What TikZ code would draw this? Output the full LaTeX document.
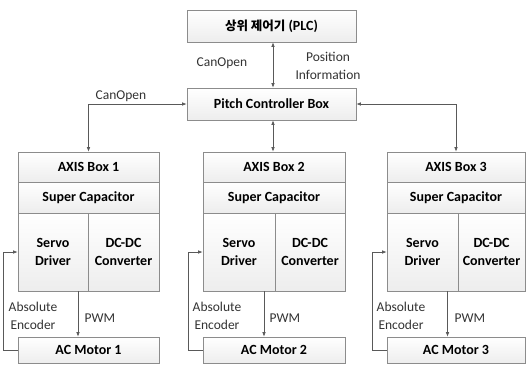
\documentclass[tikz,border=0pt]{standalone}
\usepackage{fontspec}
\setmainfont{Carlito}
\newfontfamily\krfont{Noto Sans CJK KR}
\usetikzlibrary{arrows.meta}
\definecolor{ln}{gray}{0.35}
\definecolor{bd}{gray}{0.55}
\begin{document}
\begin{tikzpicture}[x=1pt,y=-1pt,
  blk/.style={draw=bd, line width=0.6pt, top color=white, bottom color=gray!14, inner sep=0pt, align=center, font=\fontsize{14}{18}\selectfont\bfseries},
  lbl/.style={inner sep=0pt, align=center, font=\fontsize{13.5}{17.5}\selectfont, text=black!80},
  con/.style={draw=ln, line width=0.6pt, -{Latex[length=4.5pt,width=3.5pt]}},
  dcon/.style={draw=ln, line width=0.6pt, {Latex[length=4.5pt,width=3.5pt]}-{Latex[length=4.5pt,width=3.5pt]}}]
\useasboundingbox (0,0) rectangle (527,365);
% top
\node[blk, minimum width=169pt, minimum height=32pt] (plc) at (271.5,26) {{\krfont\bfseries\fontsize{12.5}{14}\selectfont 상위 제어기} (PLC)};
\node[blk, minimum width=169pt, minimum height=32pt] (pcb) at (271.5,104) {Pitch Controller Box};
% boxes
\foreach \i/\l/\d/\r in {1/18/88/159, 2/203/275/345, 3/387/458/525}{
  \node[blk, minimum width={\r-\l}, minimum height=30pt] (ax\i) at ({(\l+\r)/2},167) {AXIS Box \i};
  \node[blk, minimum width={\r-\l}, minimum height=31pt] (sc\i) at ({(\l+\r)/2},197.5) {Super Capacitor};
  \node[blk, minimum width={\d-\l}, minimum height=78pt] (sd\i) at ({(\l+\d)/2},252) {Servo\\Driver};
  \node[blk, minimum width={\r-\d}, minimum height=78pt] (dc\i) at ({(\d+\r)/2},252) {DC-DC\\Converter};
  \node[blk, minimum width={\r-\l}, minimum height=26pt] (m\i) at ({(\l+\r)/2},350) {AC Motor \i};
  \draw[con] ([xshift=25pt]sd\i.south) -- ([xshift=25pt]sd\i.south |- m\i.north);
  \draw[con] (m\i.west) -- ++(-14,0) |- (sd\i.west);
}
% connectors
\draw[dcon] ([xshift=1.5pt]plc.south) -- ([xshift=1.5pt]pcb.north);
\draw[dcon] (pcb.west) -| (ax1.north);
\draw[dcon] ([xshift=1.5pt]pcb.south) -- ([xshift=1.5pt]pcb.south |- ax2.north);
\draw[dcon] (pcb.east) -| (ax3.north);
% labels
\node[lbl] (l1) at (222,63) {CanOpen};
\node[lbl] (l2) at (328,66) {Position\\Information};
\node[lbl] (l3) at (121,96) {CanOpen};
\node[lbl] (e1) at (33,316) {Absolute\\Encoder};
\node[lbl] (e2) at (217,316) {Absolute\\Encoder};
\node[lbl] (e3) at (401,316) {Absolute\\Encoder};
\node[lbl] (p1) at (100,318) {PWM};
\node[lbl] (p2) at (285,318) {PWM};
\node[lbl] (p3) at (470,318) {PWM};
\end{tikzpicture}
\end{document}
